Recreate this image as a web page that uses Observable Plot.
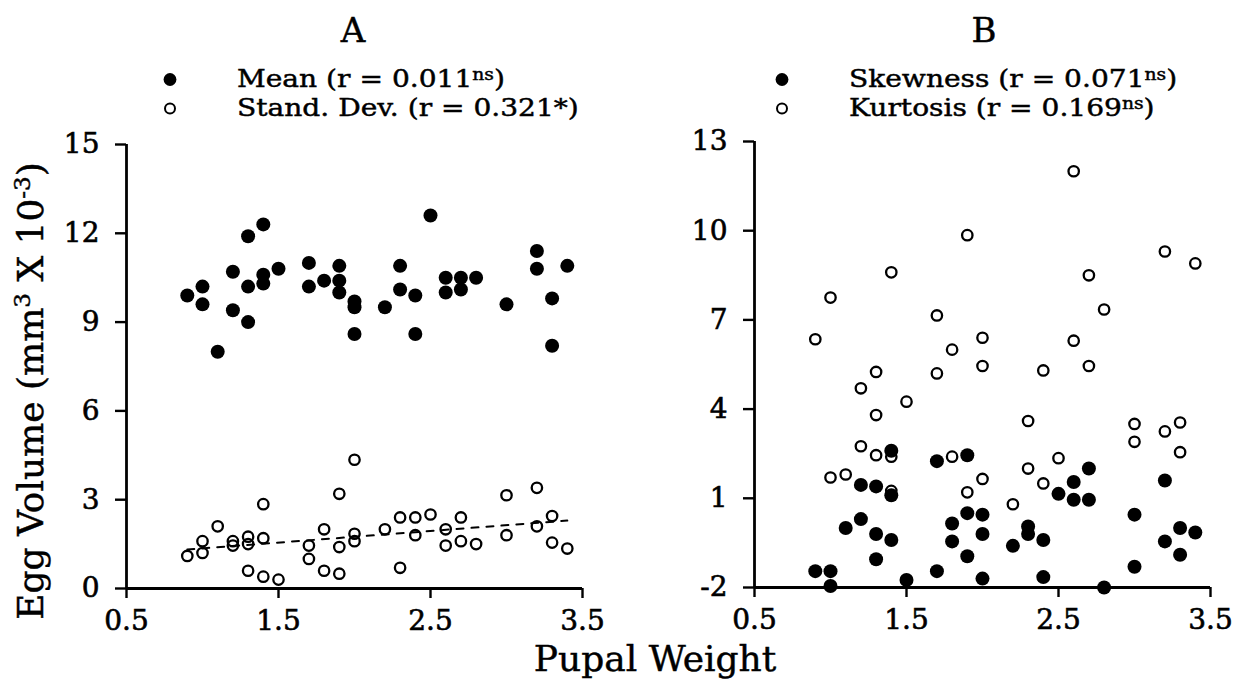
<!DOCTYPE html>
<html><head><meta charset="utf-8">
<script src="https://cdn.jsdelivr.net/npm/d3@7"></script>
<script src="https://cdn.jsdelivr.net/npm/@observablehq/plot@0.6"></script>
<style>
body{margin:0;background:#fff;}
#root{position:relative;width:1243px;height:684px;font-family:"DejaVu Serif",serif;color:#000;overflow:hidden;background:#fff}
.abs{position:absolute;white-space:nowrap;-webkit-text-stroke:0.45px #000}
.title{font-size:34px;transform:translateX(-50%);line-height:1}
.leg{font-size:24px;line-height:29px}
.leg .row{display:flex;align-items:center;height:29px}
.leg svg{flex:none}
.leg span{display:inline-block;transform:scaleX(1.17);transform-origin:0 50%}
.leg sup{font-size:16px;vertical-align:7px;line-height:0}
.ylab{font-size:36px;transform:translate(-50%,-50%) rotate(-90deg);line-height:1}
.ylab sup{font-size:23px;vertical-align:13px;line-height:0}
.xlab{font-size:36px;transform:translateX(-50%);line-height:1}
.plot{position:absolute}
.plot text{stroke:#000;stroke-width:0.6px}
</style></head><body><div id="root"></div>
<script>
// Panel A: mean and standard deviation of egg volume vs pupal weight
const meanX = [0.9,1.0,1.0,1.1,1.2,1.2,1.3,1.3,1.3,1.4,1.4,1.4,1.5,1.7,1.7,1.8,1.9,1.9,1.9,2.0,2.0,2.0,2.2,2.3,2.3,2.4,2.4,2.5,2.6,2.6,2.7,2.7,2.8,3.0,3.2,3.2,3.3,3.3,3.4];
const meanY = [9.9,10.2,9.6,8.0,10.7,9.4,11.9,10.2,9.0,12.3,10.6,10.3,10.8,11.0,10.2,10.4,10.9,10.4,10.0,9.7,9.5,8.6,9.5,10.9,10.1,9.9,8.6,12.6,10.5,10.0,10.5,10.1,10.5,9.6,11.4,10.8,9.8,8.2,10.9];
const sdX = [0.9,1.0,1.0,1.1,1.2,1.2,1.3,1.3,1.3,1.4,1.4,1.4,1.5,1.7,1.7,1.8,1.8,1.9,1.9,1.9,2.0,2.0,2.0,2.2,2.3,2.3,2.4,2.4,2.5,2.6,2.6,2.7,2.7,2.8,3.0,3.0,3.2,3.2,3.3,3.3,3.4];
const sdY = [1.1,1.6,1.2,2.1,1.6,1.45,1.75,1.5,0.6,2.85,1.7,0.4,0.3,1.45,1.0,2.0,0.6,3.2,1.4,0.5,4.35,1.85,1.6,2.0,2.4,0.7,2.4,1.8,2.5,2.0,1.45,2.4,1.6,1.5,3.15,1.8,3.4,2.1,2.45,1.55,1.35];
// Panel B: skewness and kurtosis
const skewX = [1.4,1.7,1.9,1.2,1.3,1.4,2.6,2.7,2.5,2.6,2.7,3.2,1.2,1.1,1.3,1.4,1.3,0.9,1.0,1.0,1.5,1.7,1.8,1.8,1.9,1.9,2.0,2.0,2.0,2.2,2.3,2.3,2.4,2.4,2.8,3.0,3.0,3.2,3.3,3.3,3.4];
const skewY = [2.6,2.25,2.45,1.45,1.4,1.1,1.55,2.0,1.15,0.95,0.95,1.6,0.3,0.0,-0.2,-0.4,-1.05,-1.45,-1.45,-1.95,-1.75,-1.45,0.15,-0.45,0.5,-0.95,0.45,-0.2,-1.7,-0.6,0.05,-0.2,-0.4,-1.65,-2.0,0.45,-1.3,-0.45,0.0,-0.9,-0.15];
const kurtX = [2.6,1.9,1.4,3.2,3.4,2.7,1.0,1.7,2.8,0.9,2.0,2.6,1.8,1.3,1.7,2.0,2.4,2.7,1.2,1.5,1.3,2.3,3.0,3.2,3.3,1.2,1.3,1.4,1.8,3.0,3.3,2.5,2.3,1.0,1.1,2.0,2.4,1.4,1.9,2.2];
const kurtY = [12.0,9.85,8.6,9.3,8.9,8.5,7.75,7.15,7.35,6.35,6.4,6.3,6.0,5.25,5.2,5.45,5.3,5.45,4.7,4.25,3.8,3.6,3.5,3.25,3.55,2.75,2.45,2.4,2.4,2.9,2.55,2.35,2.0,1.7,1.8,1.65,1.5,1.25,1.2,0.8];

const xTicks = [0.5,1.5,2.5,3.5];
const yTicksA = [0,3,6,9,12,15];
const yTicksB = [-2,1,4,7,10,13];
const panelTitles = ["A","B"];
const legendA = [{fill:true, html:"Mean (r = 0.011<sup>ns</sup>)"},{fill:false, html:"Stand. Dev. (r = 0.321*)"}];
const legendB = [{fill:true, html:"Skewness (r = 0.071<sup>ns</sup>)"},{fill:false, html:"Kurtosis (r = 0.169<sup>ns</sup>)"}];
const yLabel = "Egg Volume (mm<sup>3</sup> X 10<sup>-3</sup>)";
const xLabel = "Pupal Weight";

const pts = (xs, ys) => xs.map((x, i) => ({x, y: ys[i]}));

function panel({width, marginLeft, marginRight, marginTop, marginBottom, height, yDomain, yTicks, filled, hollow, regression}) {
  const marks = [
    Plot.axisX({ticks: xTicks, tickSize: 10, tickPadding: 12, fontSize: 28, tickFormat: d3.format(".1f"), label: null, strokeWidth: 2.4}),
    Plot.axisY({ticks: yTicks, tickSize: 11, tickPadding: 16, fontSize: 28, tickFormat: d => d < 0 ? "-" + Math.abs(d) : String(d), label: null, strokeWidth: 2.4}),
    Plot.ruleX([xTicks[0]], {y1: yDomain[0], y2: yDomain[1], strokeWidth: 2.8}),
    Plot.ruleY([yDomain[0]], {x1: xTicks[0], x2: xTicks[xTicks.length - 1], strokeWidth: 2.8}),
    Plot.dot(hollow, {x: "x", y: "y", r: 5.2, stroke: "#000", strokeWidth: 2.3, fill: "none"}),
    Plot.dot(filled, {x: "x", y: "y", r: 7, fill: "#000", stroke: "none"})
  ];
  if (regression) marks.push(Plot.linearRegressionY(regression, {x: "x", y: "y", ci: 0, stroke: "#000", strokeWidth: 2, strokeDasharray: "7,8"}));
  return Plot.plot({
    width, height, marginLeft, marginRight, marginTop, marginBottom,
    style: {fontFamily: "DejaVu Serif", fontSize: "28px", background: "transparent", color: "#000", overflow: "visible"},
    x: {domain: [xTicks[0], xTicks[xTicks.length - 1]]},
    y: {domain: yDomain},
    marks
  });
}

const root = document.getElementById("root");
function add(el, css) { Object.assign(el.style, css); root.appendChild(el); return el; }
function div(cls, html, css) { const d = document.createElement("div"); d.className = "abs " + cls; d.innerHTML = html; return add(d, css); }

const pA = panel({width: 620, height: 520, marginLeft: 126, marginRight: 38, marginTop: 24, marginBottom: 52,
  yDomain: [0, 15], yTicks: yTicksA, filled: pts(meanX, meanY), hollow: pts(sdX, sdY), regression: pts(sdX, sdY)});
pA.classList.add("plot"); add(pA, {left: "0px", top: "120px"});
const pB = panel({width: 623, height: 520, marginLeft: 134, marginRight: 33, marginTop: 21, marginBottom: 53,
  yDomain: [-2, 13], yTicks: yTicksB, filled: pts(skewX, skewY), hollow: pts(kurtX, kurtY)});
pB.classList.add("plot"); add(pB, {left: "620px", top: "120px"});

div("title", panelTitles[0], {left: "353px", top: "13px"});
div("title", panelTitles[1], {left: "984px", top: "13px"});

function legend(items, left, top, textLeft) {
  const d = div("leg", "", {left: left + "px", top: top + "px"});
  items.forEach(it => {
    const row = document.createElement("div"); row.className = "row";
    row.innerHTML = `<svg width="${textLeft}" height="29"><circle cx="9" cy="14.5" r="${it.fill ? 6.4 : 5}" fill="${it.fill ? "#000" : "none"}" stroke="#000" stroke-width="${it.fill ? 0 : 2}"/></svg><span>${it.html}</span>`;
    d.appendChild(row);
  });
}
legend(legendA, 161, 65, 76);
legend(legendB, 773, 65, 76);

div("ylab", yLabel, {left: "31px", top: "391px"});
div("xlab", xLabel, {left: "655px", top: "641px"});
</script></body></html>
